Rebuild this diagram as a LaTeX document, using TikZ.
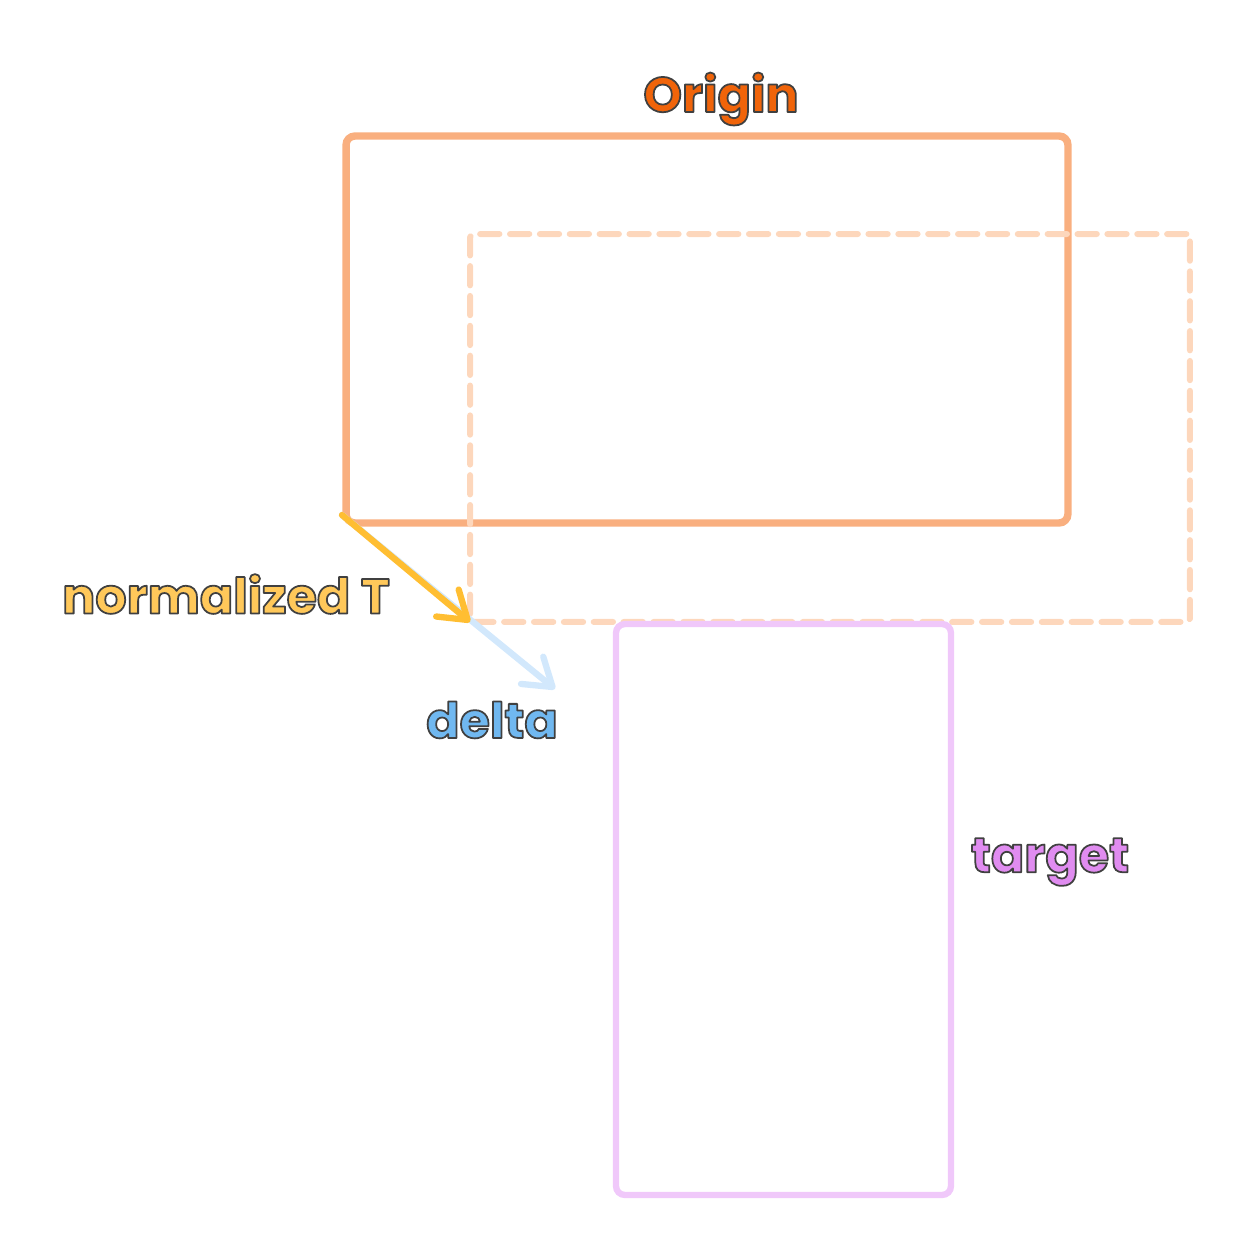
\documentclass[tikz,border=0pt]{standalone}
\usepackage{fontspec}
\usepackage{xcolor}
\usepackage{tikz}
\usetikzlibrary{arrows.meta}
\newfontfamily\handfont{Poppins}[UprightFont=*-Bold,BoldFont=*-Bold]

\definecolor{originline}{HTML}{F9AF7F}
\definecolor{shiftline}{HTML}{FDD7BC}
\definecolor{targetline}{HTML}{F0C8FA}
\definecolor{normline}{HTML}{FFBE32}
\definecolor{deltaline}{HTML}{D2E8FC}
\definecolor{origintext}{HTML}{F0640A}
\definecolor{normtext}{HTML}{FFC85A}
\definecolor{deltatext}{HTML}{70B8F0}
\definecolor{targettext}{HTML}{E08CF0}

% filled letters with a thin dark outline
\newcommand{\inked}[2]{{\color{#1}\special{pdf:code 2 Tr 1 w 1 j 0.25 G}#2\special{pdf:code 0 Tr}}}

\begin{document}
\begin{tikzpicture}[x=0.02cm,y=-0.02cm,
        box/.style={draw, rounded corners=5pt, inner sep=0pt, outer sep=0pt},
        label/.style={font=\handfont\fontsize{28}{32}\selectfont},
        move/.style={line width=3.6pt, line cap=round, -{Straight Barb[length=15pt,width=20pt,line width=3.6pt,round]}}]
        \useasboundingbox (0,0) rectangle (1254,1260);

        \node[box, draw=originline, line width=4.2pt, minimum width=14.44cm, minimum height=7.74cm] (origin) at (707,329.5) {};
        \node[box, draw=shiftline, line width=3.4pt, rounded corners=2pt, dash pattern=on 11pt off 6pt, line cap=round, minimum width=14.4cm, minimum height=7.76cm] (shifted) at (830,428) {};
        \node[box, draw=targetline, line width=3.6pt, minimum width=6.7cm, minimum height=11.42cm] (target) at (783.5,909.5) {};

        \node[label] (originlabel) at (721,99) {\inked{origintext}{Origin}};
        \node[label] (normlabel) at (226,594) {\inked{normtext}{normalized T}};
        \node[label] (deltalabel) at (492,720) {\inked{deltatext}{delta}};
        \node[label] (targetlabel) at (1050,862) {\inked{targettext}{target}};

        \coordinate (start) at (342,515);
        \coordinate (deltaend) at (555,689);

        \draw[move, draw=deltaline] (start) -- (deltaend);
        \draw[move, draw=normline] (start) -- (shifted.south west);
    \end{tikzpicture}
\end{document}
